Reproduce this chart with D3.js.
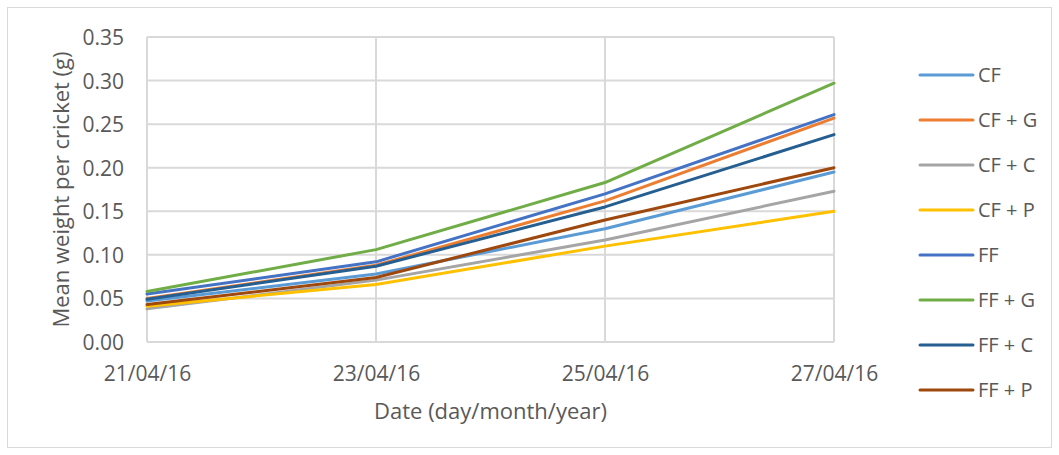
<!DOCTYPE html>
<html>
<head>
<meta charset="utf-8">
<script src="https://cdn.jsdelivr.net/npm/d3@7"></script>
<style>
  body { margin: 0; background: #fff; }
  svg text { font-family: "Open Sans", "Liberation Sans", sans-serif; fill: #595959; }
</style>
</head>
<body>
<div id="chart"></div>
<script>
// dates on the x axis
var dates = ["21/04/16", "23/04/16", "25/04/16", "27/04/16"];
var yTicks = [0, 0.05, 0.10, 0.15, 0.20, 0.25, 0.30, 0.35];

// treatments (legend order) and their colours
var seriesNames = ["CF", "CF + G", "CF + C", "CF + P", "FF", "FF + G", "FF + C", "FF + P"];
var seriesColors = ["#5B9BD5", "#ED7D31", "#A5A5A5", "#FFC000", "#4472C4", "#70AD47", "#255E91", "#9E480E"];

// mean weight per cricket (g), one array per treatment
var cf   = [0.047, 0.078, 0.130, 0.195];
var cfG  = [0.050, 0.088, 0.162, 0.257];
var cfC  = [0.038, 0.071, 0.117, 0.173];
var cfP  = [0.041, 0.066, 0.110, 0.150];
var ff   = [0.055, 0.092, 0.170, 0.261];
var ffG  = [0.058, 0.106, 0.183, 0.297];
var ffC  = [0.049, 0.087, 0.155, 0.238];
var ffP  = [0.043, 0.074, 0.140, 0.200];
var seriesValues = [cf, cfG, cfC, cfP, ff, ffG, ffC, ffP];

var width = 1059, height = 455;
var plot = {left: 147, right: 834, top: 37, bottom: 342};

var svg = d3.select("#chart").append("svg")
    .attr("width", width)
    .attr("height", height);

// outer chart border
svg.append("rect")
    .attr("x", 7.5).attr("y", 7.5)
    .attr("width", width - 15).attr("height", height - 15)
    .attr("fill", "none")
    .attr("stroke", "#d9d9d9");

var x = d3.scalePoint().domain(dates).range([plot.left, plot.right]);
var y = d3.scaleLinear().domain([0, 0.35]).range([plot.bottom, plot.top]);

// gridlines
svg.append("g").selectAll("line.h")
    .data(yTicks).enter().append("line")
    .attr("x1", plot.left).attr("x2", plot.right)
    .attr("y1", function(d) { return y(d); })
    .attr("y2", function(d) { return y(d); })
    .attr("stroke", "#d9d9d9").attr("stroke-width", 2);

svg.append("g").selectAll("line.v")
    .data(dates).enter().append("line")
    .attr("x1", function(d) { return x(d); })
    .attr("x2", function(d) { return x(d); })
    .attr("y1", plot.top).attr("y2", plot.bottom)
    .attr("stroke", "#d9d9d9").attr("stroke-width", 2);

// axes (labels only)
var yAxis = svg.append("g")
    .attr("transform", "translate(" + (plot.left - 23) + ",0)")
    .call(d3.axisLeft(y).tickValues(yTicks).tickFormat(d3.format(".2f")).tickSize(0));
yAxis.select(".domain").remove();
yAxis.selectAll("text").attr("font-size", "21px").attr("x", 0).attr("dy", "0.36em");

var xAxis = svg.append("g")
    .attr("transform", "translate(0,373)")
    .call(d3.axisBottom(x).tickSize(0));
xAxis.select(".domain").remove();
xAxis.selectAll("text").attr("font-size", "21px").attr("y", 0).attr("dy", "0.36em");

// axis titles
svg.append("text")
    .attr("x", (plot.left + plot.right) / 2)
    .attr("y", 411)
    .attr("dy", "0.36em")
    .attr("text-anchor", "middle")
    .attr("font-size", "22px")
    .text("Date (day/month/year)");

svg.append("text")
    .attr("transform", "translate(61," + (plot.top + plot.bottom) / 2 + ")rotate(-90)")
    .attr("dy", "0.36em")
    .attr("text-anchor", "middle")
    .attr("font-size", "22px")
    .text("Mean weight per cricket (g)");

// series lines
var line = d3.line()
    .x(function(d, i) { return x(dates[i]); })
    .y(function(d) { return y(d); });

svg.append("g").selectAll("path")
    .data(seriesValues).enter().append("path")
    .attr("d", line)
    .attr("fill", "none")
    .attr("stroke", function(d, i) { return seriesColors[i]; })
    .attr("stroke-width", 3)
    .attr("stroke-linejoin", "round")
    .attr("stroke-linecap", "round");

// legend
var legend = svg.append("g").selectAll("g")
    .data(seriesNames).enter().append("g")
    .attr("transform", function(d, i) { return "translate(920," + (75 + i * 45) + ")"; });

legend.append("line")
    .attr("x1", 0).attr("x2", 53)
    .attr("stroke", function(d, i) { return seriesColors[i]; })
    .attr("stroke-width", 3)
    .attr("stroke-linecap", "round");

legend.append("text")
    .attr("x", 58)
    .attr("dy", "0.36em")
    .attr("font-size", "20px")
    .text(function(d) { return d; });
</script>
</body>
</html>
